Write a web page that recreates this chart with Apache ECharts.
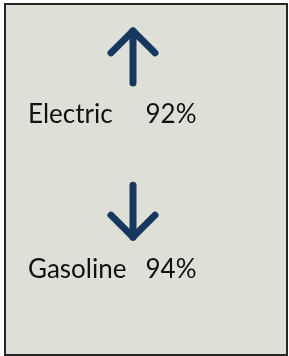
<!DOCTYPE html>
<html>
<head>
<meta charset="utf-8">
<script src="https://cdn.jsdelivr.net/npm/echarts@6/dist/echarts.min.js"></script>
<style>
  html, body { margin: 0; padding: 0; background: #fff; }
  #chart { width: 289px; height: 356px; }
</style>
</head>
<body>
<div id="chart"></div>
<script>
// fuel types, share, and trend direction
const categories = ['Electric', 'Gasoline'];
const shares = [92, 94];
const directions = ['up', 'down'];

const chart = echarts.init(document.getElementById('chart'));

const arrowColor = '#16375f';

function renderItem(params, api) {
  const idx = params.dataIndex;
  const pt = api.coord([0, api.value(1)]);
  const cx = 133;
  const ay = pt[1] - 29;   // arrow centre
  const ty = pt[1] + 29;   // text centre
  const half = 26, head = 22, wing = 22;
  const up = directions[idx] === 'up';
  const tipY = up ? ay - half : ay + half;
  const tailY = up ? ay + half : ay - half;
  const wingY = up ? tipY + head : tipY - head;
  const lineStyle = { stroke: arrowColor, lineWidth: 7, lineCap: 'round', lineJoin: 'round', fill: null };
  return {
    type: 'group',
    children: [
      { type: 'polyline', shape: { points: [[cx, tailY], [cx, tipY]] }, style: lineStyle },
      { type: 'polyline', shape: { points: [[cx - wing, wingY], [cx, tipY], [cx + wing, wingY]] }, style: lineStyle },
      {
        type: 'text', x: 28, y: ty,
        style: { text: categories[idx], fontFamily: 'Lato', fontSize: 26, fill: '#111', textVerticalAlign: 'middle' }
      },
      {
        type: 'text', x: 145.5, y: ty,
        style: { text: shares[idx] + '%', fontFamily: 'Lato', fontSize: 26, fill: '#111', textVerticalAlign: 'middle' }
      }
    ]
  };
}

const options = {
  animation: false,
  backgroundColor: '#fff',
  graphic: [
    {
      type: 'rect', z: -10,
      shape: { x: 5, y: 4, width: 282, height: 351 },
      style: { fill: '#dedfd6', stroke: '#262626', lineWidth: 2 }
    }
  ],
  grid: { left: 0, right: 0, top: 8.75, bottom: 38.75 },
  xAxis: { type: 'value', min: 0, max: 1, show: false },
  yAxis: { type: 'category', data: categories, inverse: true, show: false },
  series: [
    {
      type: 'custom',
      renderItem: renderItem,
      data: categories.map((c, i) => [0, i, shares[i]])
    }
  ]
};

chart.setOption(options);
</script>
</body>
</html>
